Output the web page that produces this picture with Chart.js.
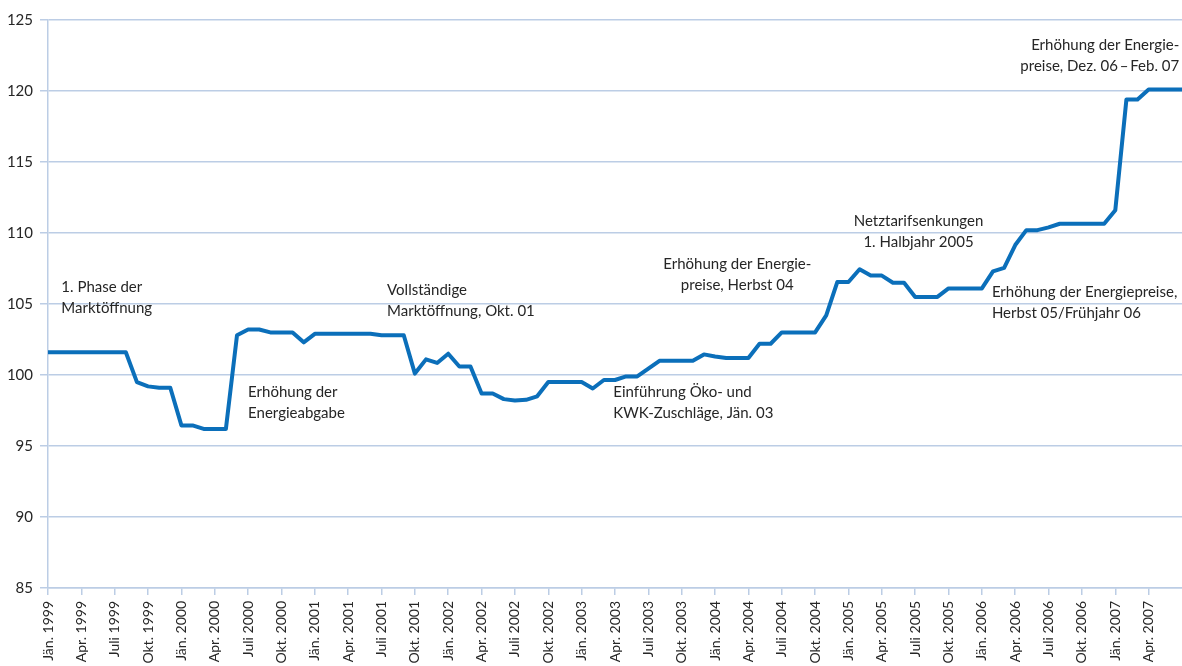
<!DOCTYPE html>
<html lang="de">
<head>
<meta charset="utf-8">
<title>Strompreisindex Jän. 1999 – 2007</title>
<script src="https://cdn.jsdelivr.net/npm/chart.js@4.4.1/dist/chart.umd.min.js"></script>
<style>
    html, body { margin: 0; padding: 0; background: #fff; }
    #wrap { position: relative; width: 1182px; height: 666px; overflow: hidden; }
</style>
</head>
<body>
<div id="wrap"><canvas id="chart"></canvas></div>
<script>
// Monatsnamen und Jahre für die Kategorien (Jän. 1999 bis Juli 2007)
const monthNames = ['Jän.', 'Feb.', 'März', 'Apr.', 'Mai', 'Juni', 'Juli', 'Aug.', 'Sep.', 'Okt.', 'Nov.', 'Dez.'];
const startYear = 1999;
const monthCount = 103;
const lastLabel = 'Apr. 2007';

// Indexwerte, monatlich
const indexValues = [
    101.6, 101.6, 101.6, 101.6, 101.6, 101.6, 101.6, 101.6, 99.5, 99.2, 99.1, 99.1,      // 1999
    96.45, 96.45, 96.2, 96.2, 96.2, 102.8, 103.2, 103.2, 103.0, 103.0, 103.0, 102.3,     // 2000
    102.9, 102.9, 102.9, 102.9, 102.9, 102.9, 102.8, 102.8, 102.8, 100.1, 101.1, 100.85, // 2001
    101.5, 100.6, 100.6, 98.7, 98.7, 98.3, 98.2, 98.25, 98.5, 99.5, 99.5, 99.5,          // 2002
    99.5, 99.05, 99.65, 99.65, 99.9, 99.9, 100.45, 101.0, 101.0, 101.0, 101.0, 101.45,   // 2003
    101.3, 101.2, 101.2, 101.2, 102.2, 102.2, 103.0, 103.0, 103.0, 103.0, 104.2, 106.55, // 2004
    106.55, 107.45, 107.0, 107.0, 106.5, 106.5, 105.5, 105.5, 105.5, 106.1, 106.1, 106.1, // 2005
    106.1, 107.3, 107.55, 109.15, 110.2, 110.2, 110.4, 110.65, 110.65, 110.65, 110.65, 110.65, // 2006
    111.6, 119.4, 119.4, 120.1, 120.1, 120.1, 120.1                                      // 2007
];

const yMin = 85;
const yMax = 125;
const yStep = 5;

// Anmerkungen im Diagramm (Position in Monatsindex / Indexwert)
const notes = [
    { lines: ['1. Phase der', 'Marktöffnung'], month: 1.2, value: 105.85, align: 'left' },
    { lines: ['Erhöhung der', 'Energieabgabe'], month: 18.0, value: 98.45, align: 'left' },
    { lines: ['Vollständige', 'Marktöffnung, Okt. 01'], month: 30.5, value: 105.63, align: 'left' },
    { lines: ['Einführung Öko- und', 'KWK-Zuschläge, Jän. 03'], month: 50.85, value: 98.43, align: 'left' },
    { lines: ['Erhöhung der Energie-', 'preise, Herbst 04'], month: 62.0, value: 107.44, align: 'center' },
    { lines: ['Netztarifsenkungen', '1. Halbjahr 2005'], month: 78.3, value: 110.49, align: 'center' },
    { lines: ['Erhöhung der Energiepreise,', 'Herbst 05/Frühjahr 06'], month: 84.9, value: 105.51, align: 'left' },
    { lines: ['Erhöhung der Energie-', 'preise, Dez. 06\u2009–\u2009Feb. 07'], month: 101.75, value: 122.89, align: 'right' }
];

const labels = [];
for (let i = 0; i < monthCount; i++) {
    labels.push(monthNames[i % 12] + ' ' + (startYear + Math.floor(i / 12)));
}
const lastLabelIndex = labels.indexOf(lastLabel);

const gridColor = '#bccde5';
const textColor = '#262626';
const fontFamily = 'Lato, "Open Sans", sans-serif';

const notesPlugin = {
    id: 'notes',
    afterDatasetsDraw(chart) {
        const { ctx, scales } = chart;
        ctx.save();
        ctx.font = '15px ' + fontFamily;
        ctx.fillStyle = textColor;
        ctx.textBaseline = 'alphabetic';
        notes.forEach(n => {
            const px = scales.x.getPixelForValue(n.month);
            const py = scales.y.getPixelForValue(n.value);
            ctx.textAlign = n.align;
            n.lines.forEach((line, k) => {
                ctx.fillText(line, px, py + k * 21);
            });
        });
        ctx.restore();
    }
};

new Chart(document.getElementById('chart'), {
    type: 'line',
    data: {
        labels: labels,
        datasets: [{
            data: indexValues,
            borderColor: '#0b6fba',
            borderWidth: 4,
            borderJoinStyle: 'round',
            pointRadius: 0,
            tension: 0,
            fill: false
        }]
    },
    options: {
        responsive: true,
        maintainAspectRatio: false,
        animation: false,
        layout: { padding: { top: 20, right: 0, left: 0, bottom: 0 } },
        plugins: {
            legend: { display: false },
            tooltip: { enabled: false }
        },
        scales: {
            x: {
                offset: false,
                grid: { drawOnChartArea: false, drawTicks: true, tickLength: 7, color: gridColor, lineWidth: 1.5 },
                border: { display: true, color: gridColor, width: 1.5 },
                ticks: {
                    autoSkip: false,
                    minRotation: 90,
                    maxRotation: 90,
                    padding: 6,
                    color: textColor,
                    font: { family: fontFamily, size: 14 },
                    callback: function (value, index) {
                        if (index % 3 !== 0 || index > lastLabelIndex) return null;
                        return this.getLabelForValue(value);
                    }
                },
                afterFit: (scale) => { scale.height = 78; }
            },
            y: {
                min: yMin,
                max: yMax,
                grid: { color: gridColor, lineWidth: 1.5, tickLength: 8 },
                border: { display: true, color: gridColor, width: 1.5 },
                ticks: {
                    stepSize: yStep,
                    padding: 7,
                    color: textColor,
                    font: { family: fontFamily, size: 15 }
                },
                afterFit: (scale) => { scale.width = 48; }
            }
        }
    },
    plugins: [notesPlugin]
});
</script>
</body>
</html>
